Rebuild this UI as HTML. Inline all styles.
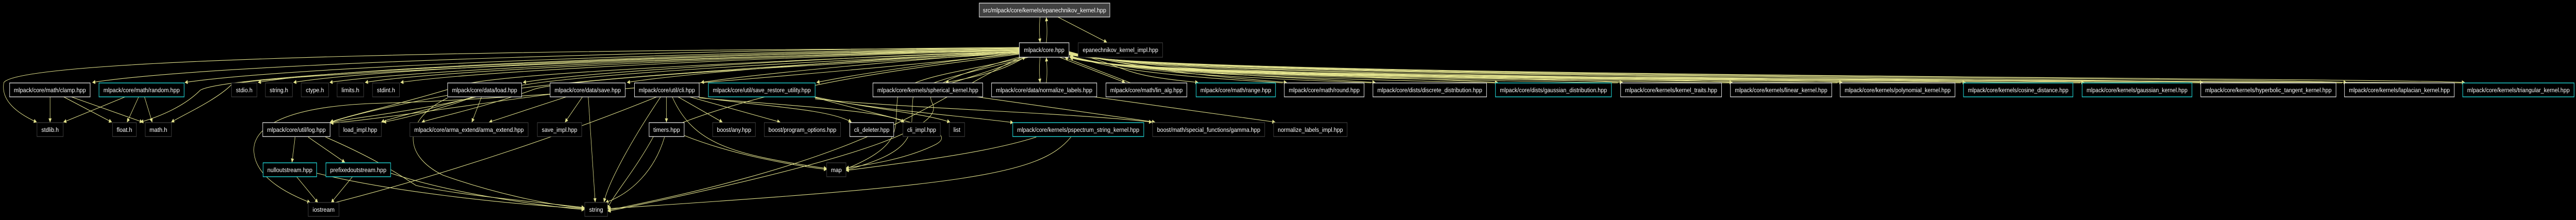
<!DOCTYPE html>
<html><head><meta charset="utf-8"><style>
html,body{margin:0;padding:0;background:#000;width:100%;height:100%;overflow:hidden;}
svg{display:block;width:100vw;height:100vh;}
text{font-family:"Liberation Sans",sans-serif;font-size:12px;fill:#fff;text-anchor:middle;}
.w{fill:#000;stroke:#e8e8e8;stroke-width:1.3;}
.c{fill:#000;stroke:#1ec8c8;stroke-width:1.5;}
.d{fill:#000;stroke:#3a3a3a;stroke-width:1.3;}
.e{fill:none;stroke:#e4e48e;stroke-width:1.1;marker-end:url(#a);}
</style></head><body>
<svg viewBox="0 0 6687 427" preserveAspectRatio="none" xmlns="http://www.w3.org/2000/svg">
<defs><marker id="a" viewBox="0 0 10 10" refX="9" refY="5" markerWidth="9" markerHeight="8" orient="auto" markerUnits="userSpaceOnUse"><path d="M0,0 L10,5 L0,10 z" fill="#e4e48e"/></marker></defs>

<path class="e" d="M2700,33 C2697,50 2698,65 2700,82"/>
<path class="e" d="M2716,83 C2719,66 2718,50 2716,34"/>
<path class="e" d="M2746,33 L2873,82"/>

<path class="e" d="M2646,92 C2000,95 600,118 240,160"/>
<path class="e" d="M2646,93 C2000,98 800,125 480,160"/>
<path class="e" d="M2646,94 C2000,100 900,128 670,160"/>
<path class="e" d="M2646,95 C2000,102 1000,130 762,160"/>
<path class="e" d="M2646,96 C2100,104 1100,132 856,160"/>
<path class="e" d="M2646,97 C2100,106 1150,134 948,160"/>
<path class="e" d="M2646,98 C2100,108 1250,136 1040,160"/>
<path class="e" d="M2646,99 C2200,110 1500,140 1358,160"/>
<path class="e" d="M2646,100 C2300,112 1800,140 1628,160"/>
<path class="e" d="M2646,101 C2400,114 2000,140 1820,160"/>
<path class="e" d="M2646,102 C2500,115 2250,140 2120,160"/>
<path class="e" d="M2660,111 C2620,130 2570,145 2455,160"/>
<path class="e" d="M2470,161 C2560,140 2620,125 2662,111"/>
<path class="e" d="M2700,111 C2697,128 2698,145 2700,160"/>
<path class="e" d="M2716,161 C2719,144 2718,128 2716,112"/>
<path class="e" d="M2750,111 L2920,160"/>
<path class="e" d="M2935,161 L2765,112"/>

<path class="e" d="M2646,94 C1500,96 60,110 10,160 C0,200 60,225 95,237"/>
<path class="e" d="M2646,97 C1800,104 600,140 520,175 C480,205 420,225 365,237"/>
<path class="e" d="M2646,98 C1800,108 650,145 600,165 C560,195 470,225 445,237"/>
<path class="e" d="M2646,100 C2200,112 1300,140 1200,165 C1050,200 900,225 857,237"/>
<path class="e" d="M2646,101 C2200,116 1400,145 1300,175 C1150,210 900,230 857,238"/>
<path class="e" d="M2646,102 C2200,118 1300,160 1220,190 C1100,215 1010,230 990,237"/>
<path class="e" d="M2646,103 C2300,120 1450,150 1380,175 C1250,210 1120,230 1095,237"/>
<path class="e" d="M2646,104 C2200,140 1300,195 1000,200 C700,205 650,260 660,300 C670,350 760,380 805,393"/>
<path class="e" d="M2646,105 C2400,130 2000,160 1700,260 C1650,330 1590,380 1577,405"/>
<path class="e" d="M2650,111 C2400,200 2300,300 1578,408"/>
<path class="e" d="M2660,111 C2500,140 2340,150 2330,190 C2320,250 2350,280 2196,328"/>
<path class="e" d="M2670,111 C2500,145 2380,160 2370,190 C2360,250 2400,290 2196,330"/>
<path class="e" d="M2660,108 C2450,150 2400,170 2420,200 C2450,240 2300,300 1578,410"/>

<path class="e" d="M2775,100 C2950,135 2900,145 3110,160"/>
<path class="e" d="M2775,101 C3000,140 3150,148 3340,160"/>
<path class="e" d="M2775,102 C3000,142 3300,148 3570,160"/>
<path class="e" d="M2775,102 C3000,143 3600,148 3888,160"/>
<path class="e" d="M2775,103 C3000,144 3900,148 4212,160"/>
<path class="e" d="M2775,103 C3000,145 4200,148 4497,160"/>
<path class="e" d="M2775,104 C3000,146 4500,149 4782,160"/>
<path class="e" d="M2775,104 C3000,146 4800,149 5102,160"/>
<path class="e" d="M2775,105 C3000,147 5100,149 5410,160"/>
<path class="e" d="M2775,105 C3000,147 5400,150 5718,160"/>
<path class="e" d="M2775,106 C3000,148 5800,150 6091,160"/>
<path class="e" d="M2775,106 C3000,148 6100,150 6398,160"/>
<path class="e" d="M3330,161 C3100,150 2900,140 2778,108"/>
<path class="e" d="M3560,161 C3200,150 2950,142 2778,109"/>
<path class="e" d="M3880,161 C3300,150 2950,143 2778,109"/>
<path class="e" d="M4200,161 C3400,150 2950,144 2778,110"/>
<path class="e" d="M4490,161 C3500,150 2950,145 2778,110"/>
<path class="e" d="M4770,161 C3600,150 2950,146 2778,111"/>
<path class="e" d="M5090,161 C3700,150 2950,147 2778,111"/>
<path class="e" d="M5400,161 C3800,150 2950,148 2778,112"/>
<path class="e" d="M5710,161 C3900,150 2950,148 2778,112"/>
<path class="e" d="M6080,161 C4000,150 2950,148 2778,112"/>
<path class="e" d="M6390,161 C4100,150 2950,148 2778,112"/>

<path class="e" d="M130,188 L130,237"/>
<path class="e" d="M165,188 L290,237"/>
<path class="e" d="M185,188 L370,237"/>
<path class="e" d="M325,188 L165,237"/>
<path class="e" d="M360,188 L330,237"/>
<path class="e" d="M375,188 L395,237"/>

<path class="e" d="M766,266 L758,315"/>
<path class="e" d="M800,266 L895,315"/>
<path class="e" d="M845,266 C950,300 1020,330 1080,360 C1200,380 1400,392 1517,403"/>
<path class="e" d="M770,343 L825,393"/>
<path class="e" d="M915,343 L860,393"/>
<path class="e" d="M822,336 C1000,370 1300,395 1517,405"/>
<path class="e" d="M1014,336 C1150,370 1350,395 1517,407"/>
<path class="e" d="M1250,188 L1225,237"/>
<path class="e" d="M1162,185 C1050,200 900,225 858,238"/>
<path class="e" d="M1230,188 C1150,210 1050,230 995,237"/>
<path class="e" d="M1162,190 C1050,230 1040,300 1150,340 C1300,380 1450,400 1517,404"/>
<path class="e" d="M1470,188 L1270,237"/>
<path class="e" d="M1428,183 C1250,200 1000,230 858,239"/>
<path class="e" d="M1512,188 L1467,237"/>
<path class="e" d="M1527,188 L1545,392"/>
<path class="e" d="M1705,188 C1500,250 1200,330 860,395"/>
<path class="e" d="M1715,188 C1650,260 1580,350 1568,392"/>
<path class="e" d="M1730,188 L1730,237"/>
<path class="e" d="M1745,188 C1800,280 1900,300 2146,327"/>
<path class="e" d="M1760,188 L1875,237"/>
<path class="e" d="M1790,188 L2025,237"/>
<path class="e" d="M1810,188 C1950,205 2150,210 2210,237"/>
<path class="e" d="M1815,190 C2050,205 2300,215 2347,237"/>
<path class="e" d="M1725,266 C1700,330 1640,375 1572,393"/>
<path class="e" d="M1776,263 C1900,300 2050,320 2146,329"/>
<path class="e" d="M2116,188 C2250,210 2400,220 2466,237"/>
<path class="e" d="M2116,190 C2300,215 2500,225 2630,238"/>
<path class="e" d="M2116,192 C2350,210 2800,220 2990,237"/>
<path class="e" d="M2112,188 C2300,230 2500,250 2430,280 C2350,310 2250,320 2196,326"/>
<path class="e" d="M2535,188 L2998,237"/>
<path class="e" d="M2840,188 L3310,237"/>
<path class="e" d="M2690,266 C2550,300 2300,320 2196,331"/>
<path class="e" d="M2780,266 C2700,340 2500,360 1578,405"/>

<rect x="2542" y="6" width="339" height="27" fill="#404040" stroke="#e8e8e8" stroke-width="1.3"/>
<text x="2711.5" y="24" textLength="320" lengthAdjust="spacingAndGlyphs">src/mlpack/core/kernels/epanechnikov_kernel.hpp</text>

<rect class="w" x="2646" y="83" width="129" height="28"/><text x="2710.5" y="101" textLength="105" lengthAdjust="spacingAndGlyphs">mlpack/core.hpp</text>
<rect class="d" x="2799" y="83" width="219" height="28"/><text x="2908.5" y="101" textLength="196" lengthAdjust="spacingAndGlyphs">epanechnikov_kernel_impl.hpp</text>

<rect class="w" x="25" y="161" width="209" height="27"/><text x="129.5" y="179" textLength="187" lengthAdjust="spacingAndGlyphs">mlpack/core/math/clamp.hpp</text>
<rect class="c" x="257" y="161" width="221" height="27"/><text x="367.5" y="179" textLength="198" lengthAdjust="spacingAndGlyphs">mlpack/core/math/random.hpp</text>
<rect class="d" x="601" y="161" width="66" height="27"/><text x="634" y="179" textLength="43" lengthAdjust="spacingAndGlyphs">stdio.h</text>
<rect class="d" x="689" y="161" width="70" height="27"/><text x="724" y="179" textLength="48" lengthAdjust="spacingAndGlyphs">string.h</text>
<rect class="d" x="782" y="161" width="71" height="27"/><text x="817.5" y="179" textLength="47" lengthAdjust="spacingAndGlyphs">ctype.h</text>
<rect class="d" x="875" y="161" width="69" height="27"/><text x="909.5" y="179" textLength="46" lengthAdjust="spacingAndGlyphs">limits.h</text>
<rect class="d" x="967" y="161" width="70" height="27"/><text x="1002" y="179" textLength="47" lengthAdjust="spacingAndGlyphs">stdint.h</text>
<rect class="w" x="1162" y="161" width="192" height="27"/><text x="1258" y="179" textLength="169" lengthAdjust="spacingAndGlyphs">mlpack/core/data/load.hpp</text>
<rect class="w" x="1428" y="161" width="195" height="27"/><text x="1525.5" y="179" textLength="172" lengthAdjust="spacingAndGlyphs">mlpack/core/data/save.hpp</text>
<rect class="w" x="1647" y="161" width="168" height="27"/><text x="1731" y="179" textLength="146" lengthAdjust="spacingAndGlyphs">mlpack/core/util/cli.hpp</text>
<rect class="c" x="1839" y="161" width="277" height="27"/><text x="1977.5" y="179" textLength="254" lengthAdjust="spacingAndGlyphs">mlpack/core/util/save_restore_utility.hpp</text>
<rect class="w" x="2266" y="161" width="285" height="27"/><text x="2408.5" y="179" textLength="262" lengthAdjust="spacingAndGlyphs">mlpack/core/kernels/spherical_kernel.hpp</text>
<rect class="w" x="2574" y="161" width="273" height="27"/><text x="2710.5" y="179" textLength="250" lengthAdjust="spacingAndGlyphs">mlpack/core/data/normalize_labels.hpp</text>
<rect class="w" x="2871" y="161" width="210" height="27"/><text x="2976" y="179" textLength="188" lengthAdjust="spacingAndGlyphs">mlpack/core/math/lin_alg.hpp</text>
<rect class="c" x="3105" y="161" width="206" height="27"/><text x="3208" y="179" textLength="184" lengthAdjust="spacingAndGlyphs">mlpack/core/math/range.hpp</text>
<rect class="w" x="3334" y="161" width="207" height="27"/><text x="3437.5" y="179" textLength="184" lengthAdjust="spacingAndGlyphs">mlpack/core/math/round.hpp</text>
<rect class="w" x="3564" y="161" width="295" height="27"/><text x="3711.5" y="179" textLength="272" lengthAdjust="spacingAndGlyphs">mlpack/core/dists/discrete_distribution.hpp</text>
<rect class="c" x="3882" y="161" width="301" height="27"/><text x="4032.5" y="179" textLength="278" lengthAdjust="spacingAndGlyphs">mlpack/core/dists/gaussian_distribution.hpp</text>
<rect class="w" x="4207" y="161" width="262" height="27"/><text x="4338" y="179" textLength="239" lengthAdjust="spacingAndGlyphs">mlpack/core/kernels/kernel_traits.hpp</text>
<rect class="w" x="4492" y="161" width="263" height="27"/><text x="4623.5" y="179" textLength="240" lengthAdjust="spacingAndGlyphs">mlpack/core/kernels/linear_kernel.hpp</text>
<rect class="w" x="4777" y="161" width="298" height="27"/><text x="4926" y="179" textLength="275" lengthAdjust="spacingAndGlyphs">mlpack/core/kernels/polynomial_kernel.hpp</text>
<rect class="c" x="5097" y="161" width="284" height="27"/><text x="5239" y="179" textLength="261" lengthAdjust="spacingAndGlyphs">mlpack/core/kernels/cosine_distance.hpp</text>
<rect class="c" x="5405" y="161" width="285" height="27"/><text x="5547.5" y="179" textLength="262" lengthAdjust="spacingAndGlyphs">mlpack/core/kernels/gaussian_kernel.hpp</text>
<rect class="w" x="5713" y="161" width="351" height="27"/><text x="5888.5" y="179" textLength="328" lengthAdjust="spacingAndGlyphs">mlpack/core/kernels/hyperbolic_tangent_kernel.hpp</text>
<rect class="w" x="6086" y="161" width="285" height="27"/><text x="6228.5" y="179" textLength="262" lengthAdjust="spacingAndGlyphs">mlpack/core/kernels/laplacian_kernel.hpp</text>
<rect class="c" x="6393" y="161" width="289" height="27"/><text x="6537.5" y="179" textLength="266" lengthAdjust="spacingAndGlyphs">mlpack/core/kernels/triangular_kernel.hpp</text>

<rect class="d" x="96" y="238" width="68" height="27"/><text x="130" y="256" textLength="45" lengthAdjust="spacingAndGlyphs">stdlib.h</text>
<rect class="d" x="292" y="238" width="62" height="27"/><text x="323" y="256" textLength="40" lengthAdjust="spacingAndGlyphs">float.h</text>
<rect class="d" x="377" y="238" width="68" height="27"/><text x="411" y="256" textLength="46" lengthAdjust="spacingAndGlyphs">math.h</text>
<rect class="w" x="682" y="238" width="175" height="27"/><text x="769.5" y="256" textLength="152" lengthAdjust="spacingAndGlyphs">mlpack/core/util/log.hpp</text>
<rect class="d" x="880" y="238" width="110" height="27"/><text x="935" y="256" textLength="88" lengthAdjust="spacingAndGlyphs">load_impl.hpp</text>
<rect class="d" x="1064" y="238" width="307" height="27"/><text x="1217.5" y="256" textLength="284" lengthAdjust="spacingAndGlyphs">mlpack/core/arma_extend/arma_extend.hpp</text>
<rect class="d" x="1395" y="238" width="115" height="27"/><text x="1452.5" y="256" textLength="92" lengthAdjust="spacingAndGlyphs">save_impl.hpp</text>
<rect class="w" x="1685" y="238" width="91" height="27"/><text x="1730.5" y="256" textLength="69" lengthAdjust="spacingAndGlyphs">timers.hpp</text>
<rect class="d" x="1850" y="238" width="111" height="27"/><text x="1905.5" y="256" textLength="89" lengthAdjust="spacingAndGlyphs">boost/any.hpp</text>
<rect class="d" x="1984" y="238" width="198" height="27"/><text x="2083" y="256" textLength="176" lengthAdjust="spacingAndGlyphs">boost/program_options.hpp</text>
<rect class="w" x="2206" y="238" width="114" height="27"/><text x="2263" y="256" textLength="92" lengthAdjust="spacingAndGlyphs">cli_deleter.hpp</text>
<rect class="d" x="2344" y="238" width="97" height="27"/><text x="2392.5" y="256" textLength="75" lengthAdjust="spacingAndGlyphs">cli_impl.hpp</text>
<rect class="d" x="2464" y="238" width="40" height="27"/><text x="2484" y="256" textLength="18" lengthAdjust="spacingAndGlyphs">list</text>
<rect class="c" x="2629" y="238" width="340" height="27"/><text x="2799" y="256" textLength="317" lengthAdjust="spacingAndGlyphs">mlpack/core/kernels/pspectrum_string_kernel.hpp</text>
<rect class="d" x="2992" y="238" width="291" height="27"/><text x="3137.5" y="256" textLength="268" lengthAdjust="spacingAndGlyphs">boost/math/special_functions/gamma.hpp</text>
<rect class="d" x="3306" y="238" width="191" height="27"/><text x="3401.5" y="256" textLength="169" lengthAdjust="spacingAndGlyphs">normalize_labels_impl.hpp</text>

<rect class="c" x="683" y="316" width="139" height="27"/><text x="752.5" y="334" textLength="117" lengthAdjust="spacingAndGlyphs">nulloutstream.hpp</text>
<rect class="c" x="846" y="316" width="168" height="27"/><text x="930" y="334" textLength="146" lengthAdjust="spacingAndGlyphs">prefixedoutstream.hpp</text>
<rect class="d" x="2146" y="316" width="50" height="27"/><text x="2171" y="334" textLength="28" lengthAdjust="spacingAndGlyphs">map</text>

<rect class="d" x="800" y="393" width="80" height="27"/><text x="840" y="411" textLength="57" lengthAdjust="spacingAndGlyphs">iostream</text>
<rect class="d" x="1518" y="393" width="59" height="27"/><text x="1547.5" y="411" textLength="36" lengthAdjust="spacingAndGlyphs">string</text>
</svg>
</body></html>
